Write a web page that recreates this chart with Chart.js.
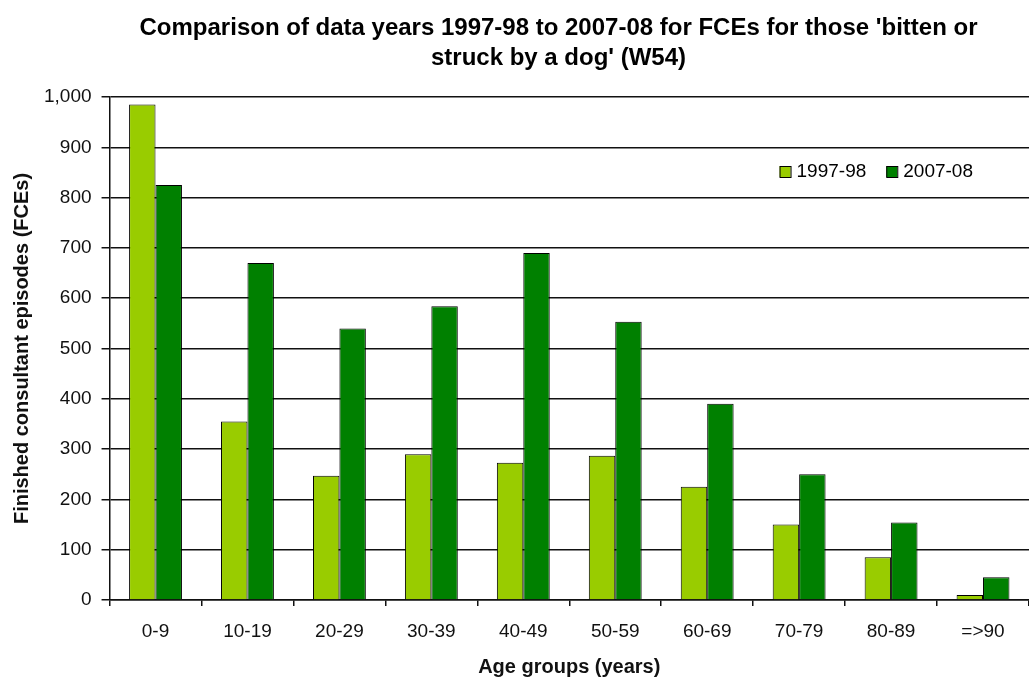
<!DOCTYPE html>
<html>
<head>
<meta charset="utf-8">
<script src="https://cdn.jsdelivr.net/npm/chart.js@4/dist/chart.umd.min.js"></script>
<style>
  html, body { margin: 0; padding: 0; background: #fff; }
  #wrap { width: 1029px; height: 677px; }
</style>
</head>
<body>
<div id="wrap"><canvas id="dog-chart"></canvas></div>
<script>
// data
const ageGroups = ['0-9', '10-19', '20-29', '30-39', '40-49', '50-59', '60-69', '70-79', '80-89', '=>90'];
const fce1997 = [985, 355, 247, 290, 273, 287, 225, 150, 85, 10];
const fce2007 = [825, 670, 540, 584, 690, 553, 390, 250, 154, 45];
const seriesNames = ['1997-98', '2007-08'];
const seriesColors = ['#99cc00', '#008000'];

const titleLines = [
    "Comparison of data years 1997-98 to 2007-08 for FCEs for those 'bitten or",
    "struck by a dog' (W54)"
];

// two line title, centred a bit right of the canvas middle like the original
const topTitle = {
    id: 'topTitle',
    afterDraw(chart) {
        const { ctx } = chart;
        ctx.save();
        ctx.font = 'bold 24px Arial, "Liberation Sans"';
        ctx.fillStyle = '#000';
        ctx.textAlign = 'center';
        ctx.textBaseline = 'middle';
        const cx = chart.width / 2 + 44;
        titleLines.forEach((line, i) => ctx.fillText(line, cx, 28 + i * 30));
        ctx.restore();
    }
};

// legend sits inside the plot area, top right
const boxLegend = {
    id: 'boxLegend',
    afterDatasetsDraw(chart) {
        const { ctx, chartArea } = chart;
        ctx.save();
        ctx.font = '19px Arial, "Liberation Sans"';
        ctx.textBaseline = 'middle';
        ctx.textAlign = 'left';
        let x = chartArea.left + 670;
        const y = chartArea.top + 75;
        chart.data.datasets.forEach(ds => {
            ctx.fillStyle = ds.backgroundColor;
            ctx.fillRect(x, y - 6, 11, 11);
            ctx.strokeStyle = '#000';
            ctx.lineWidth = 1;
            ctx.strokeRect(x + 0.5, y - 5.5, 11, 11);
            ctx.fillStyle = '#000';
            ctx.fillText(ds.label, x + 17, y);
            x += 17 + ctx.measureText(ds.label).width + 20;
        });
        ctx.restore();
    }
};

const ctx = document.getElementById('dog-chart').getContext('2d');

new Chart(ctx, {
    type: 'bar',
    data: {
        labels: ageGroups,
        datasets: [
            {
                label: seriesNames[0],
                data: fce1997,
                backgroundColor: seriesColors[0],
                borderColor: '#000',
                borderWidth: 1
            },
            {
                label: seriesNames[1],
                data: fce2007,
                backgroundColor: seriesColors[1],
                borderColor: '#000',
                borderWidth: 1
            }
        ]
    },
    options: {
        responsive: true,
        maintainAspectRatio: false,
        animation: false,
        layout: { padding: { left: 0, right: 0, top: 97, bottom: 0 } },
        datasets: {
            bar: { categoryPercentage: 0.575, barPercentage: 1.0 }
        },
        plugins: {
            legend: { display: false },
            tooltip: { enabled: false },
            title: { display: false }
        },
        scales: {
            x: {
                grid: {
                    drawOnChartArea: false,
                    drawTicks: true,
                    tickLength: 6,
                    color: '#111',
                    lineWidth: 1.5
                },
                border: { color: '#111', width: 1.5 },
                ticks: {
                    color: '#111',
                    font: { family: 'Arial, "Liberation Sans"', size: 19, lineHeight: 1.0 },
                    padding: 16,
                    maxRotation: 0
                },
                title: {
                    display: true,
                    text: 'Age groups (years)',
                    color: '#111',
                    font: { family: 'Arial, "Liberation Sans"', size: 20, weight: 'bold', lineHeight: 1.0 },
                    padding: { top: 0, bottom: 0 }
                }
            },
            y: {
                min: 0,
                max: 1000,
                ticks: {
                    stepSize: 100,
                    color: '#111',
                    font: { family: 'Arial, "Liberation Sans"', size: 19 },
                    padding: 10
                },
                grid: {
                    color: '#111',
                    lineWidth: 1.5,
                    tickLength: 8
                },
                border: { color: '#111', width: 1.5 },
                title: {
                    display: true,
                    text: 'Finished consultant episodes (FCEs)',
                    color: '#111',
                    font: { family: 'Arial, "Liberation Sans"', size: 20, weight: 'bold' },
                    padding: { top: 10, bottom: 0 }
                }
            }
        }
    },
    plugins: [topTitle, boxLegend]
});
</script>
</body>
</html>
